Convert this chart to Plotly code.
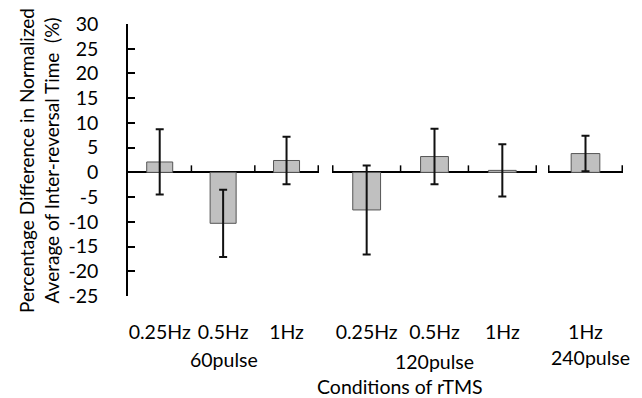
import plotly.graph_objects as go

# ---- data ----
group_names = ["60pulse", "120pulse", "240pulse"]
cats_60 = ["0.25Hz", "0.5Hz", "1Hz"]
vals_60 = [2.1, -10.3, 2.4]
errs_60 = [6.6, 6.8, 4.8]

cats_120 = ["0.25Hz", "0.5Hz", "1Hz"]
vals_120 = [-7.6, 3.2, 0.4]
errs_120 = [9.0, 5.6, 5.3]

cats_240 = ["1Hz"]
vals_240 = [3.8]
errs_240 = [3.6]

y_ticks = [30, 25, 20, 15, 10, 5, 0, -5, -10, -15, -20, -25]

FONT = "Lato"
FS = 19.5
W, H = 642, 398
ML, MR, MT, MB = 128, 19, 24, 102
PW = W - ML - MR
PH = H - MT - MB

def dom(a, b):
    return [(a - ML) / PW, (b - ML) / PW]

groups = [
    (cats_60, vals_60, errs_60, dom(128, 319), 0.41),
    (cats_120, vals_120, errs_120, dom(332, 537), 0.41),
    (cats_240, vals_240, errs_240, dom(548, 623), 0.39),
]

fig = go.Figure()
for i, (cats, vals, errs, d, bw) in enumerate(groups):
    sfx = "" if i == 0 else str(i + 1)
    fig.add_trace(go.Bar(
        x=cats, y=vals, width=bw,
        xaxis="x" + sfx, yaxis="y" + sfx,
        marker=dict(color="#c0c0c0", line=dict(color="#555555", width=1)),
        error_y=dict(type="data", array=errs, visible=True, color="#111111",
                     thickness=2, width=4),
        showlegend=False,
    ))
    fig.layout["xaxis" + sfx] = dict(
        domain=d, anchor="y" + sfx, type="category", automargin=False,
        showline=False, showgrid=False, zeroline=False, ticks="",
        tickfont=dict(family=FONT, size=FS, color="#000"),
        ticklabelstandoff=22, fixedrange=True,
    )
    yax = dict(
        domain=[0, 1], anchor="x" + sfx, range=[-25, 30], automargin=False,
        showgrid=False, zeroline=True, zerolinecolor="#000", zerolinewidth=2,
        fixedrange=True,
    )
    if i == 0:
        yax.update(showline=True, linecolor="#000", linewidth=1.5,
                   ticks="inside", ticklen=7, tickcolor="#000", tickwidth=1.5,
                   tickvals=y_ticks, ticktext=[str(v) for v in y_ticks],
                   tickfont=dict(family=FONT, size=FS, color="#000"),
                   ticklabelstandoff=24)
    else:
        yax.update(showline=False, ticks="", showticklabels=False)
    fig.layout["yaxis" + sfx] = yax

    # category boundary ticks on the zero line (pointing up)
    n = len(cats)
    bounds = [k - 0.5 for k in range(n + 1)]
    if i == 0:
        bounds = bounds[1:]
    for b in bounds:
        fig.add_shape(type="line", xref="x" + sfx, yref="y" + sfx,
                      x0=b, x1=b, ysizemode="pixel", yanchor=0, y0=0, y1=7,
                      line=dict(color="#000", width=1.5))

    # group label
    gy = [359, 361, 357][i]
    fig.add_annotation(text=group_names[i], xref="x" + sfx + " domain",
                       x=0.5 + [0, 0, 0.073][i],
                       yref="paper", y=(H - MB - gy) / PH,
                       yanchor="middle", showarrow=False,
                       font=dict(family=FONT, size=FS, color="#000"))

fig.add_annotation(text="Conditions of rTMS", xref="paper", x=(400 - ML) / PW,
                   yref="paper", y=(H - MB - 386) / PH, yanchor="middle",
                   showarrow=False, font=dict(family=FONT, size=FS, color="#000"))

fig.add_annotation(text="Percentage Difference in Normalized<br>Average of Inter-reversal Time&nbsp; (%)",
                   textangle=-90, xref="paper", x=(39 - ML) / PW, xanchor="center",
                   yref="paper", y=(H - MB - 161) / PH, yanchor="middle",
                   showarrow=False, font=dict(family=FONT, size=19, color="#000"))

fig.update_layout(
    width=W, height=H,
    margin=dict(l=ML, r=MR, t=MT, b=MB, autoexpand=False),
    paper_bgcolor="#fff", plot_bgcolor="#fff",
)

fig.write_html("out.html", config={"displayModeBar": False},
               post_script="document.body.style.margin='0';document.body.style.overflow='hidden';")
